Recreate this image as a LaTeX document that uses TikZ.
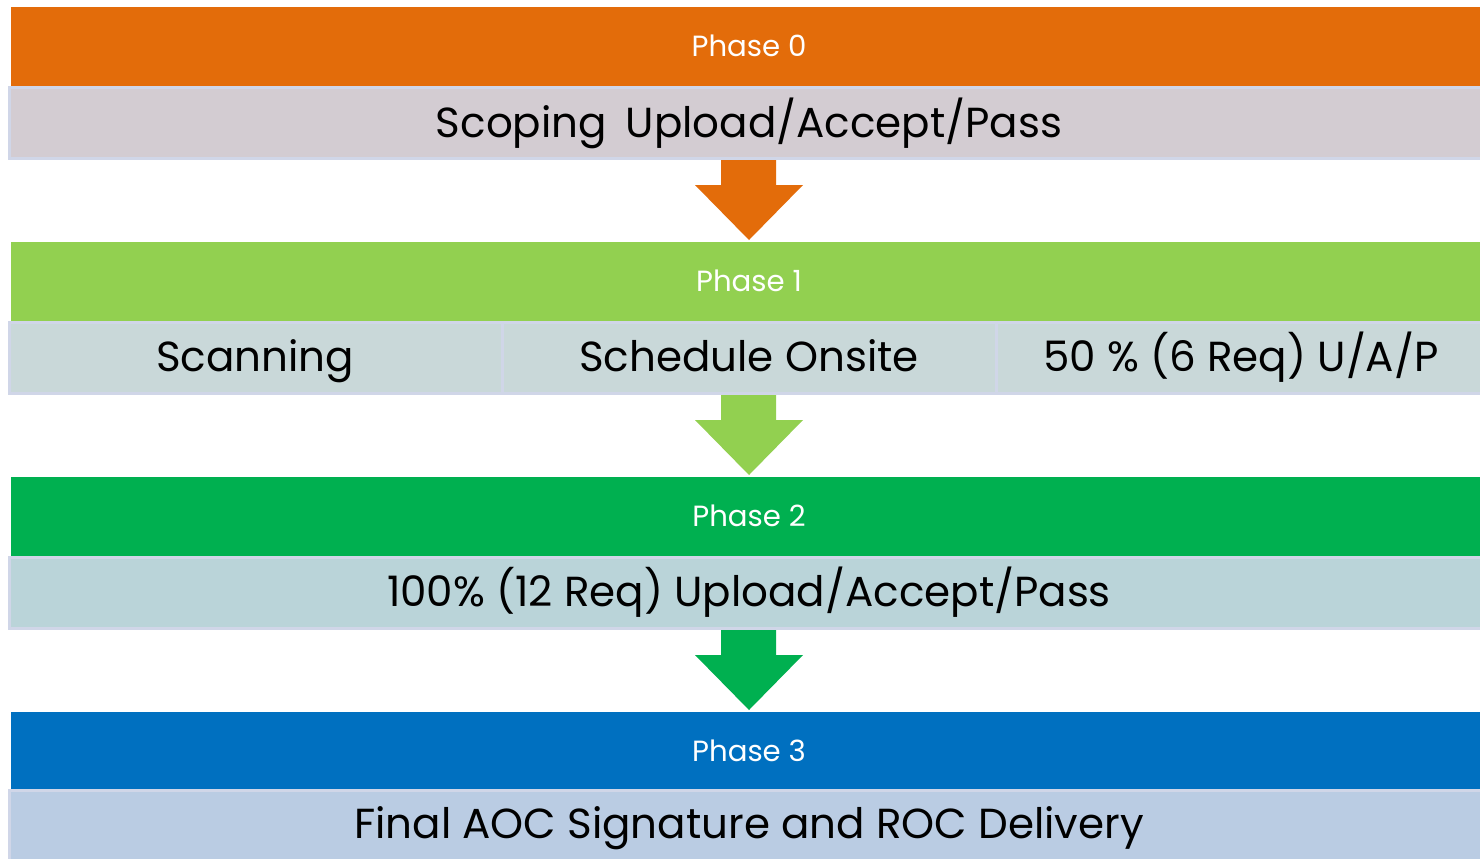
\documentclass[tikz,border=0pt]{standalone}
\usepackage{fontspec}
\setmainfont{Poppins}
\definecolor{orng}{HTML}{E36C0A}
\definecolor{lgreen}{HTML}{92D050}
\definecolor{dgreen}{HTML}{00B050}
\definecolor{blu}{HTML}{0070C0}
\definecolor{row0}{HTML}{D3CCD2}
\definecolor{row1}{HTML}{C9D8D9}
\definecolor{row2}{HTML}{BAD4D9}
\definecolor{row3}{HTML}{BACCE3}
\definecolor{bord}{HTML}{D0D6E8}
\tikzset{
  hdr/.style={inner sep=0pt, minimum width=734.5pt, minimum height=39.5pt},
  hdrtxt/.style={inner sep=0pt, anchor=base, text=white, font=\fontsize{14.6}{17}\selectfont},
  rowbox/.style={fill=#1, draw=bord, line width=1.5pt, inner sep=0pt},
  rowtxt/.style={inner sep=0pt, anchor=base, text=black, font=\fontsize{21}{25}\selectfont},
  blockarrow/.style={fill=#1, draw=none}
}
\begin{document}
\begin{tikzpicture}[x=0.5pt,y=-0.5pt]
\useasboundingbox (0,0) rectangle (1480,858);
\fill[white] (0,0) rectangle (1480,858);
% Phase 0
\node[hdr, fill=orng, anchor=north west] (h0) at (11,7) {};
\node[hdrtxt] (t0) at (749,56) {Phase 0};
\draw[rowbox=row0] (9.5,87.5) rectangle (1484,158.5);
\node[rowtxt] (r0) at (749,137) {Scoping\hspace{0.45em}Upload/Accept/Pass};
% Phase 1
\node[hdr, fill=lgreen, anchor=north west] (h1) at (11,242) {};
\node[hdrtxt] (t1) at (749,291) {Phase 1};
\draw[rowbox=row1] (9.5,322.5) rectangle (502,393.5);
\draw[rowbox=row1] (502,322.5) rectangle (996,393.5);
\draw[rowbox=row1] (996,322.5) rectangle (1484,393.5);
\node[rowtxt] (r1a) at (255,371) {Scanning};
\node[rowtxt] (r1b) at (749,371) {Schedule Onsite};
\node[rowtxt] (r1c) at (1241,371) {50 \% (6 Req) U/A/P};
% Phase 2
\node[hdr, fill=dgreen, anchor=north west] (h2) at (11,477) {};
\node[hdrtxt] (t2) at (749,526) {Phase 2};
\draw[rowbox=row2] (9.5,557.5) rectangle (1484,628.5);
\node[rowtxt] (r2) at (749,606) {100\% (12 Req) Upload/Accept/Pass};
% Phase 3
\node[hdr, fill=blu, anchor=north west, minimum height=38.5pt] (h3) at (11,712) {};
\node[hdrtxt] (t3) at (749,761) {Phase 3};
\draw[rowbox=row3] (9.5,790.5) rectangle (1484,870);
\node[rowtxt] (r3) at (749,838) {Final AOC Signature and ROC Delivery};
% Arrows
\fill[blockarrow=orng] (721,160) -- (776,160) -- (776,185) -- (803,185) -- (749,240) -- (695,185) -- (721,185) -- cycle;
\fill[blockarrow=lgreen] (721,395) -- (776,395) -- (776,420) -- (803,420) -- (749,475) -- (695,420) -- (721,420) -- cycle;
\fill[blockarrow=dgreen] (721,630) -- (776,630) -- (776,655) -- (803,655) -- (749,710) -- (695,655) -- (721,655) -- cycle;
\end{tikzpicture}
\end{document}
